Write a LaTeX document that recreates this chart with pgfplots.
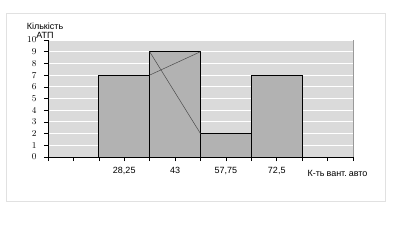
\documentclass[border=0pt]{standalone}
\usepackage{pgfplots}
\pgfplotsset{compat=1.18}
\usepackage{fontspec}
\setmainfont{Liberation Sans}
\definecolor{bgc}{RGB}{218,218,218}
\definecolor{barc}{RGB}{178,178,178}
\definecolor{framec}{RGB}{225,225,225}
\begin{document}
\begin{tikzpicture}[x=1pt,y=1pt]
\path (0,0) rectangle (407,244);
\draw[framec, line width=0.8pt] (6,43) rectangle (385,231);
\begin{axis}[
  at={(48pt,87pt)}, anchor=south west,
  scale only axis, width=305pt, height=117pt,
  xmin=0, xmax=6, ymin=0, ymax=10,
  axis x line*=bottom, axis y line*=left,
  axis line style={black, line width=0.6pt},
  axis background/.style={fill=bgc, draw=gray!80, line width=0.6pt},
  xtick={1.5,2.5,3.5,4.5},
  xticklabels={{28,25},43,{57,75},{72,5}},
  minor xtick={0,0.5,...,6},
  ytick={0,1,...,10},
  tick align=outside,
  major tick length=4pt, minor tick length=4pt,
  tick style={black, line width=0.6pt},
  ymajorgrids, grid style={white, line width=1pt},
  font=\fontsize{9}{10}\selectfont,
  xticklabel style={yshift=-3pt},
  yticklabel style={xshift=-4pt},
]
\addplot[ybar interval, fill=barc, draw=black, line width=0.7pt] coordinates {(1,7) (2,9) (3,2) (4,7) (5,0)};
\addplot[draw=gray!60!black, line width=0.5pt] coordinates {(2,9) (3,2)};
\addplot[draw=gray!60!black, line width=0.5pt] coordinates {(2,7) (3,9)};
\end{axis}
\node[font=\fontsize{9}{10}\selectfont] at (45,218) {Кількість};
\node[font=\fontsize{9}{10}\selectfont] at (45,209) {АТП};
\node[font=\fontsize{9}{10}\selectfont, anchor=west] at (304,71) {К-ть\hspace{2pt}вант.\hspace{2pt}авто};
\end{tikzpicture}
\end{document}
